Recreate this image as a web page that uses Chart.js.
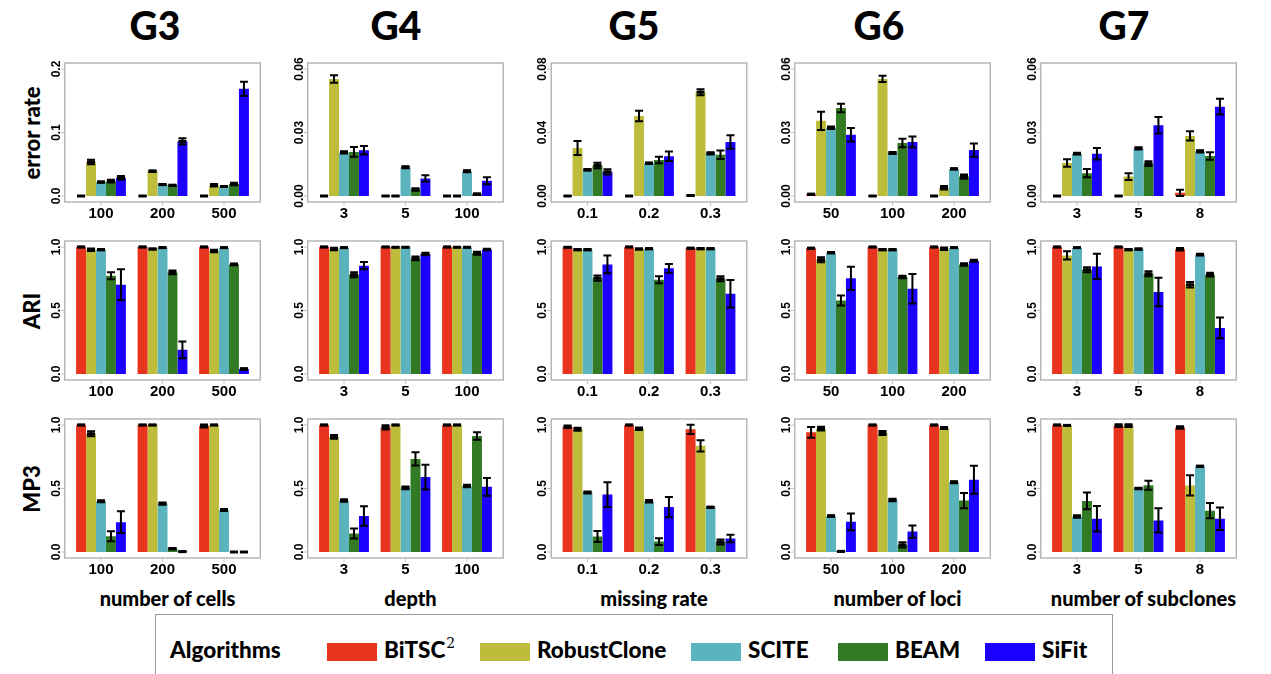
<!DOCTYPE html>
<html><head><meta charset="utf-8">
<script src="https://cdn.jsdelivr.net/npm/chart.js@4"></script>
<style>
html,body{margin:0;padding:0;background:#fff;}
#page{position:relative;width:1271px;height:674px;overflow:hidden;background:#fff;}
.t{position:absolute;white-space:nowrap;color:#000;font-family:Lato,"DejaVu Sans",sans-serif;}
.colTitle{font-size:39px;font-weight:900;transform:translateX(-50%);top:0px;line-height:50px;}
.rowTitle{font-size:22px;font-weight:900;transform:translate(-50%,-50%) rotate(-90deg);left:31px;}
.xTitle{font-size:20px;font-weight:900;transform:translateX(-50%);top:585px;line-height:26px;}
#legend{position:absolute;left:155px;top:614px;width:958px;height:60px;border:1.5px solid #9a9a9a;box-sizing:border-box;border-bottom:none;}
.lg{position:absolute;top:22px;font-size:22.5px;font-weight:900;line-height:26px;font-family:Lato,sans-serif;white-space:nowrap;}
.sw{position:absolute;top:28px;width:50px;height:18px;}
canvas{position:absolute;}
</style></head>
<body><div id="page"></div>
<script>
// ---------- data ----------
const groups = ["G3","G4","G5","G6","G7"];
const xTitles = ["number of cells","depth","missing rate","number of loci","number of subclones"];
const xLabels = [["100","200","500"],["3","5","100"],["0.1","0.2","0.3"],["50","100","200"],["3","5","8"]];
const metrics = ["error rate","ARI","MP3"];
const algorithms = ["BiTSC2","RobustClone","SCITE","BEAM","SiFit"];
const colors = ["#E8341F","#BDBD3B","#5BB3BD","#337A24","#1C00FF"];

const errorRateTicks = [[0,0.1,0.2],[0,0.03,0.06],[0,0.04,0.08],[0,0.03,0.06],[0,0.03,0.06]];
const errorRateTickLabels = [["0.0","0.1","0.2"],["0.00","0.03","0.06"],["0.00","0.04","0.08"],["0.00","0.03","0.06"],["0.00","0.03","0.06"]];
const scoreTicks = [0,0.5,1];
const scoreTickLabels = ["0.0","0.5","1.0"];

// [group][algorithm][category]
const errorRateMean = [
  [[0,0,0],[0.0536,0.039,0.017],[0.022,0.018,0.015],[0.0234,0.0167,0.019],[0.0286,0.086,0.169]],
  [[0,0,0],[0.0553,0,0],[0.0206,0.0136,0.0117],[0.0208,0.0031,0.0009],[0.0216,0.0083,0.0072]],
  [[0,0,0.0003],[0.0302,0.0504,0.0654],[0.0165,0.0206,0.0269],[0.0192,0.0227,0.026],[0.0152,0.025,0.034]],
  [[0.0008,0,0],[0.0355,0.0553,0.0039],[0.0322,0.0203,0.0128],[0.0416,0.025,0.0092],[0.0289,0.0255,0.0217]],
  [[0,0,0.0015],[0.0156,0.0092,0.0284],[0.02,0.0225,0.0211],[0.0108,0.0153,0.0189],[0.02,0.0334,0.0422]]
];
const errorRateErr = [
  [[0,0,0],[0.0035,0.0012,0.002],[0.001,0.0008,0.0008],[0.002,0.001,0.002],[0.003,0.005,0.011]],
  [[0,0,0],[0.0018,0,0],[0.0005,0.0005,0.0005],[0.0023,0.0006,0.0003],[0.002,0.0015,0.0016]],
  [[0,0,0.0002],[0.0044,0.0033,0.0019],[0.0005,0.0005,0.0007],[0.0017,0.002,0.0027],[0.0016,0.003,0.0043]],
  [[0.0003,0,0],[0.0043,0.0015,0.0008],[0.0006,0.0005,0.0003],[0.002,0.002,0.001],[0.0032,0.0026,0.0031]],
  [[0,0,0.0015],[0.0018,0.0016,0.0022],[0.0004,0.0005,0.0005],[0.0019,0.0011,0.0018],[0.0027,0.0039,0.0037]]
];
const ariMean = [
  [[1,1,1],[0.979,0.984,0.968],[0.979,0.995,0.995],[0.774,0.8,0.863],[0.703,0.19,0.04]],
  [[1,1,1],[0.984,0.998,0.998],[0.995,0.998,0.998],[0.782,0.91,0.95],[0.853,0.945,0.98]],
  [[0.998,1,0.99],[0.979,0.984,0.987],[0.979,0.987,0.987],[0.755,0.742,0.75],[0.863,0.832,0.632]],
  [[0.99,1,1],[0.9,0.979,0.987],[0.955,0.979,0.995],[0.579,0.763,0.863],[0.753,0.671,0.892]],
  [[1,1,0.982],[0.934,0.979,0.703],[0.995,0.984,0.94],[0.821,0.789,0.782],[0.847,0.645,0.363]]
];
const ariErr = [
  [[0.002,0.002,0.002],[0.01,0.004,0.01],[0.005,0.003,0.003],[0.028,0.015,0.007],[0.122,0.066,0.006]],
  [[0.002,0.002,0.002],[0.01,0.002,0.002],[0.003,0.002,0.002],[0.02,0.015,0.012],[0.029,0.01,0.006]],
  [[0.002,0.002,0.005],[0.005,0.004,0.005],[0.005,0.004,0.004],[0.02,0.027,0.02],[0.07,0.035,0.108]],
  [[0.005,0.002,0.002],[0.02,0.005,0.01],[0.005,0.005,0.002],[0.04,0.01,0.01],[0.092,0.116,0.008]],
  [[0.002,0.002,0.01],[0.032,0.005,0.022],[0.002,0.005,0.007],[0.02,0.02,0.015],[0.099,0.112,0.082]]
];
const mp3Mean = [
  [[1,1,0.992],[0.931,1,1],[0.399,0.381,0.331],[0.124,0.026,0],[0.235,0.003,0]],
  [[1,0.981,1],[0.907,1,1],[0.405,0.505,0.519],[0.146,0.733,0.913],[0.283,0.59,0.513]],
  [[0.987,1,0.966],[0.966,0.971,0.836],[0.468,0.399,0.352],[0.122,0.082,0.079],[0.452,0.354,0.106]],
  [[0.942,1,1],[0.971,0.937,0.976],[0.283,0.41,0.55],[0.005,0.056,0.405],[0.238,0.161,0.569]],
  [[1,0.995,0.981],[0.997,0.995,0.524],[0.28,0.5,0.675],[0.402,0.526,0.325],[0.262,0.249,0.262]]
];
const mp3Err = [
  [[0.002,0.002,0.012],[0.019,0.002,0.002],[0.008,0.008,0.008],[0.04,0.005,0],[0.085,0.002,0]],
  [[0.002,0.017,0.002],[0.015,0.002,0.002],[0.01,0.01,0.01],[0.04,0.052,0.03],[0.077,0.097,0.07]],
  [[0.01,0.002,0.036],[0.012,0.01,0.044],[0.008,0.01,0.005],[0.044,0.026,0.02],[0.097,0.08,0.03]],
  [[0.042,0.002,0.002],[0.015,0.015,0.008],[0.006,0.01,0.008],[0.002,0.02,0.06],[0.066,0.048,0.111]],
  [[0.002,0.01,0.01],[0.003,0.01,0.08],[0.01,0.005,0.005],[0.066,0.036,0.06],[0.1,0.095,0.088]]
];

// ---------- layout ----------
const page = document.getElementById('page');
const colCenters = [162.5, 405.5, 649, 892.5, 1138.5];
const titleCenters = [155, 396, 634, 879, 1124];
const rowTops = [69, 247, 425];
const plotH = 127, halfW = 92.25;
const rowMeans = [errorRateMean, ariMean, mp3Mean];
const rowErrs = [errorRateErr, ariErr, mp3Err];
const tickFont = 'bold 12px "Liberation Sans", Arial, sans-serif';
const xFont = 'bold 15px "Liberation Sans", Arial, sans-serif';

function addText(cls, txt, css) {
  const d = document.createElement('div');
  d.className = 't ' + cls;
  d.innerHTML = txt;
  Object.assign(d.style, css);
  page.appendChild(d);
  return d;
}

groups.forEach((g, c) => addText('colTitle', g, {left: titleCenters[c] + 'px'}));
metrics.forEach((m, r) => addText('rowTitle', m, {top: (rowTops[r] + plotH / 2) + 'px'}));
xTitles.forEach((x, c) => addText('xTitle', x, {left: (colCenters[c] + 5) + 'px'}));

function makePanelPlugin(tickVals, tickLabels, errs) {
  return {
    id: 'panel',
    beforeDatasetsDraw(chart) {
      const ctx = chart.ctx, a = chart.chartArea;
      const bx = a.left - 5.5, by = a.top - 6, bw = a.width + 11, bh = a.height + 12;
      ctx.save();
      ctx.strokeStyle = '#b3b3b3';
      ctx.lineWidth = 1.4;
      ctx.strokeRect(bx, by, bw, bh);
      const ys = chart.scales.y, xs = chart.scales.x;
      ctx.strokeStyle = '#c4c4c4';
      ctx.lineWidth = 1;
      tickVals.forEach(v => {
        const y = ys.getPixelForValue(v);
        ctx.beginPath(); ctx.moveTo(bx, y); ctx.lineTo(bx - 4, y); ctx.stroke();
      });
      chart.data.labels.forEach((l, i) => {
        const x = xs.getPixelForValue(i);
        ctx.beginPath(); ctx.moveTo(x, by + bh); ctx.lineTo(x, by + bh + 4); ctx.stroke();
      });
      ctx.fillStyle = '#000';
      ctx.font = tickFont;
      ctx.textAlign = 'center';
      ctx.textBaseline = 'middle';
      tickVals.forEach((v, i) => {
        const y = ys.getPixelForValue(v);
        ctx.save();
        ctx.translate(bx - 8.5, y);
        ctx.rotate(-Math.PI / 2);
        ctx.fillText(tickLabels[i], 0, 0);
        ctx.restore();
      });
      ctx.font = xFont;
      chart.data.labels.forEach((l, i) => {
        ctx.fillText(l, xs.getPixelForValue(i), by + bh + 12);
      });
      ctx.restore();
    },
    afterDatasetsDraw(chart) {
      const ctx = chart.ctx, ys = chart.scales.y;
      ctx.save();
      ctx.strokeStyle = '#000';
      ctx.lineWidth = 2;
      ctx.lineCap = 'butt';
      chart.data.datasets.forEach((ds, di) => {
        const meta = chart.getDatasetMeta(di);
        meta.data.forEach((bar, j) => {
          const m = ds.data[j], e = errs[di][j];
          const x = bar.x;
          const yHi = ys.getPixelForValue(m + e), yLo = ys.getPixelForValue(m - e);
          const cw = 4;
          ctx.beginPath();
          ctx.moveTo(x, yHi); ctx.lineTo(x, yLo);
          ctx.moveTo(x - cw, yHi); ctx.lineTo(x + cw, yHi);
          ctx.moveTo(x - cw, yLo); ctx.lineTo(x + cw, yLo);
          ctx.stroke();
          if (e < 0.0015 * ys.max / 0.06 || e === 0) {
            ctx.beginPath();
            ctx.lineWidth = 3;
            ctx.moveTo(x - cw, (yHi + yLo) / 2); ctx.lineTo(x + cw, (yHi + yLo) / 2);
            ctx.stroke();
            ctx.lineWidth = 2;
          }
        });
      });
      ctx.restore();
    }
  };
}

for (let r = 0; r < 3; r++) {
  for (let c = 0; c < 5; c++) {
    const cx = colCenters[c], top = rowTops[r];
    const L = Math.floor(cx - halfW - 45), T = Math.floor(top - 16);
    const W = Math.ceil(2 * halfW + 62), H = plotH + 16 + 36;
    const cv = document.createElement('canvas');
    cv.width = W; cv.height = H;
    Object.assign(cv.style, {left: L + 'px', top: T + 'px', width: W + 'px', height: H + 'px'});
    page.appendChild(cv);
    const tickVals = r === 0 ? errorRateTicks[c] : scoreTicks;
    const tickLabels = r === 0 ? errorRateTickLabels[c] : scoreTickLabels;
    const means = rowMeans[r][c], errs = rowErrs[r][c];
    const padL = (cx - halfW) - L;
    const padR = W - ((cx + halfW) - L);
    const padT = top - T;
    const padB = H - (top + plotH - T);
    new Chart(cv, {
      type: 'bar',
      data: {
        labels: xLabels[c],
        datasets: algorithms.map((a, i) => ({
          label: a,
          data: means[i],
          backgroundColor: colors[i],
          borderWidth: 0,
          categoryPercentage: 0.81,
          barPercentage: 1
        }))
      },
      options: {
        responsive: false,
        animation: false,
        devicePixelRatio: 1,
        layout: {padding: {left: padL, right: padR, top: padT, bottom: padB}},
        plugins: {legend: {display: false}, tooltip: {enabled: false}},
        scales: {
          x: {display: false, offset: true},
          y: {display: false, min: 0, max: tickVals[tickVals.length - 1]}
        }
      },
      plugins: [makePanelPlugin(tickVals, tickLabels, errs)]
    });
  }
}

// ---------- legend ----------
const legend = document.createElement('div');
legend.id = 'legend';
page.appendChild(legend);
const lgTitle = document.createElement('div');
lgTitle.className = 'lg';
lgTitle.style.left = '14px';
lgTitle.textContent = 'Algorithms';
legend.appendChild(lgTitle);
const swatchLefts = [171, 324, 535, 682, 829];
algorithms.forEach((a, i) => {
  const sw = document.createElement('div');
  sw.className = 'sw';
  sw.style.left = swatchLefts[i] + 'px';
  sw.style.background = colors[i];
  legend.appendChild(sw);
  const lb = document.createElement('div');
  lb.className = 'lg';
  lb.style.left = (swatchLefts[i] + 57) + 'px';
  if (a === 'BiTSC2') {
    lb.innerHTML = 'BiTSC<span style="font-family:\'DejaVu Serif\',serif;font-weight:normal;font-size:14px;position:relative;top:-10px;margin-left:1px;">2</span>';
  } else {
    lb.textContent = a;
  }
  legend.appendChild(lb);
});
</script>
</body></html>
